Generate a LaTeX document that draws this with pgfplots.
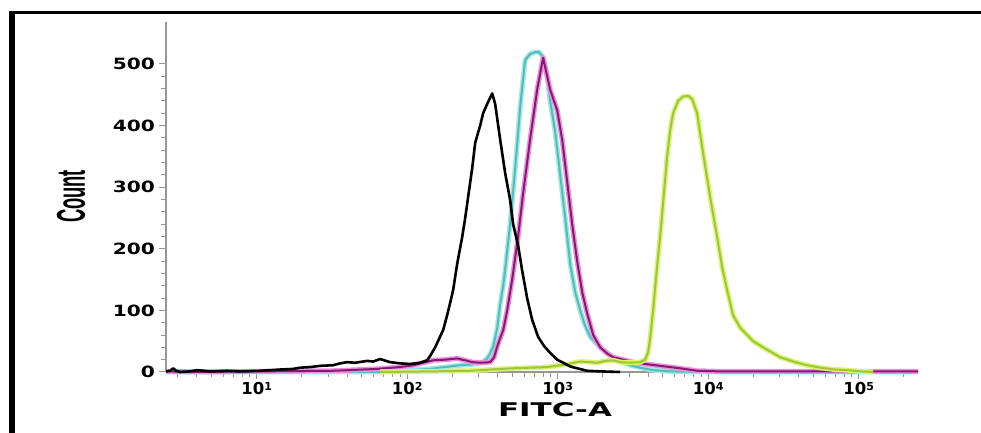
\documentclass[border=0pt]{standalone}
\usepackage{pgfplots}
\usepackage{pgfplotstable}
\usepackage{graphicx}
\usepackage{fontspec}
\pgfplotsset{compat=1.18}
\setmainfont{DejaVu Sans}
\newfontfamily\ytf[FakeStretch=1.3]{DejaVu Sans}
\newfontfamily\lbf{Liberation Sans}
\definecolor{cyanhalo}{RGB}{165,230,230}
\definecolor{cyancore}{RGB}{80,190,185}
\definecolor{purphalo}{RGB}{235,145,220}
\definecolor{purpcore}{RGB}{135,25,115}
\definecolor{greenhalo}{RGB}{220,242,120}
\definecolor{greencore}{RGB}{155,200,55}
\definecolor{axgray}{RGB}{150,150,150}

\pgfplotstableread{
x y
2.50 1
2.66 2
2.79 6
2.92 2
3.10 0
3.61 1
4.02 3
4.91 1
6.37 2
7.77 1
10.55 2
14.32 4
17.48 5
19.45 7
22.68 8
26.42 10
32.23 11
35.89 14
39.94 16
45.13 15
54.24 18
59.43 17
66.16 21
77.1 16
89.83 14
104.7 13
121.9 15
135.8 19
142.2 26
153.5 40
173.5 68
184.4 92
193.1 112
202.2 133
214.9 175
232.2 219
243.2 250
254.3 284
270.4 330
283.3 372
305.8 400
320 420
340.4 435
367.5 452
384.6 435
415.3 377
448 323
483.4 279
506.2 240
546.6 205
581 165
627 120
677 85
742 57
813.4 42
892 31
993 20
1089 15
1212 9
1348 6
1572 2
1918 1
2605 0
}\blackdata

\pgfplotstableread{
x y
2.50 0
66.16 0
89.83 2
121.9 4
142.2 5
165.7 7
193.1 9
225 11
262.4 12
296.4 14
320 17
340.4 22
356.4 30
372.9 41
396.4 70
415.3 110
434.9 140
448 166
483.4 240
522.2 330
563.8 430
608 506
656 516
709 519
754 519
801 511
851.5 480
892 440
963 390
1040 320
1123 250
1212 175
1307 130
1412 100
1523 75
1646 57
1918 40
2135 31
2410 20
3036 11
3535 7
4310 3
5592 1
8847 0
248000 0
}\cyandata

\pgfplotstableread{
x y
2.50 1
4.21 0
10.55 1
32.23 2
63.2 5
89.83 8
109.6 11
148.9 19
178.9 20
214.9 22
243.2 19
270.4 16
305.8 15
356.4 16
378.4 24
396.4 41
415.3 55
434.9 68
462.1 100
498.8 150
546.6 220
590 290
656 377
731 458
801 510
892 458
993 425
1072 377
1156 310
1249 240
1348 180
1455 130
1572 95
1723 60
1918 40
2135 30
2339 24
2724 20
3178 16
3815 13
4796 10
5592 8
6515 6
8448 2
12010 1
248000 1
}\purpdata

\pgfplotstableread{
x y
66.16 0
142.2 1
262.4 2
506.2 6
851.5 8
1123 12
1412 17
1646 16
1832 15
2068 18
2339 19
2605 16
3036 15
3535 16
3815 20
3994 32
4118 55
4310 100
4513 155
4796 220
5023 275
5342 350
5592 392
5852 420
6320 440
6822 447
7365 448
7830 443
8448 420
9262 355
10310 284
11480 219
12390 170
13370 133
14650 92
16320 72
19910 50
23920 38
30090 24
37830 16
45480 11
55470 7
69810 4
83910 3
102400 1
124800 0
}\greendata

\newcommand{\ex}[1]{10\raisebox{4pt}{\fontsize{11}{11}\selectfont #1}}

\begin{document}
\begin{tikzpicture}
\useasboundingbox (0pt,0pt) rectangle (981pt,433pt);
\fill[black] (9pt,0pt) rectangle (15pt,422pt);
\fill[black] (9pt,418.5pt) rectangle (981pt,422pt);
\node[rotate=90, inner sep=0pt] at (71pt,236.5pt) {\resizebox{53pt}{28pt}{\lbf\bfseries Count}};
\node[inner sep=0pt] at (555pt,23.5pt) {\resizebox{114pt}{14pt}{\bfseries FITC-A}};
\begin{axis}[
  at={(166pt,61pt)}, anchor=south west,
  scale only axis, width=752pt, height=350pt,
  xmode=log, xmin=2.5, xmax=248000, ymin=0, ymax=568,
  axis x line*=bottom, axis y line*=left,
  axis line style={axgray, line width=1.3pt},
  tick style={axgray, line width=1pt},
  tick align=outside,
  major tick length=7pt, minor tick length=5pt,
  ytick={0,100,200,300,400,500},
  yticklabels={0,100,200,300,400,500},
  minor y tick num=4,
  xtick={10,100,1000,10000,100000},
  xticklabels={\ex{1},\ex{2},\ex{3},\ex{4},\ex{5}},
  minor xtick={3,4,5,6,7,8,9,20,30,40,50,60,70,80,90,200,300,400,500,600,700,800,900,2000,3000,4000,5000,6000,7000,8000,9000,20000,30000,40000,50000,60000,70000,80000,90000,200000},
  yticklabel style={font=\ytf\bfseries\fontsize{15.5}{16}\selectfont, inner sep=0pt, anchor=east, xshift=-4pt},
  xticklabel style={font=\bfseries\fontsize{16.5}{17}\selectfont, inner sep=0pt, anchor=north, yshift=-3pt},
  clip=false,
]
\addplot[cyanhalo, line width=5pt, line join=round] table {\cyandata};
\addplot[cyancore, line width=2pt, line join=round] table {\cyandata};
\addplot[purphalo, line width=5pt, line join=round] table {\purpdata};
\addplot[purpcore, line width=2pt, line join=round] table {\purpdata};
\addplot[greenhalo, line width=5pt, line join=round] table {\greendata};
\addplot[greencore, line width=2pt, line join=round] table {\greendata};
\addplot[black, line width=2.6pt, line join=round] table {\blackdata};
\end{axis}
\end{tikzpicture}
\end{document}
